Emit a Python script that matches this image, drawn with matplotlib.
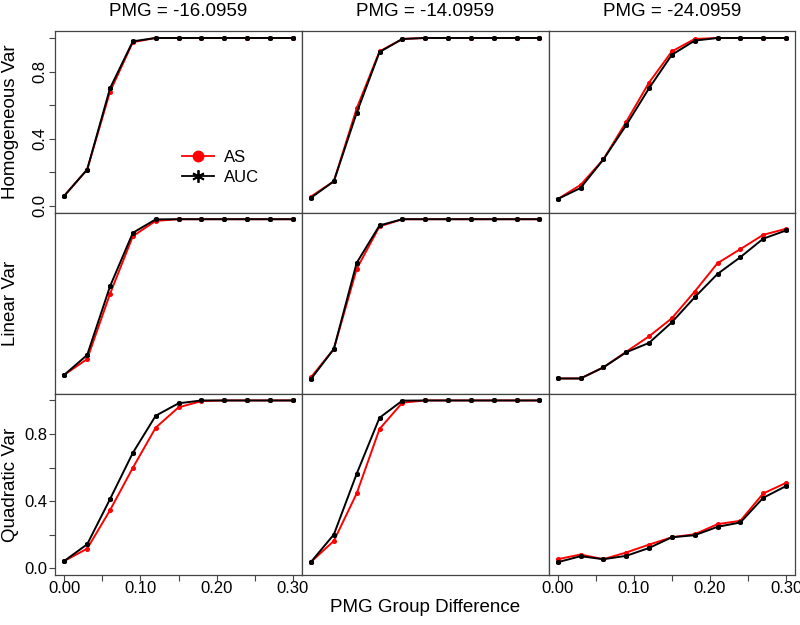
import numpy as np
import matplotlib
matplotlib.use("Agg")
import matplotlib.pyplot as plt
from matplotlib.lines import Line2D

# ------------------------------------------------------------
# Data
# ------------------------------------------------------------
pmg_diff = [0.00, 0.03, 0.06, 0.09, 0.12, 0.15, 0.18, 0.21, 0.24, 0.27, 0.30]

col_titles = ["PMG = -16.0959", "PMG = -14.0959", "PMG = -24.0959"]
row_labels = ["Homogeneous Var", "Linear Var", "Quadratic Var"]

# Homogeneous Var
hom_as_16 = [0.06, 0.216, 0.68, 0.975, 1.0, 1.0, 1.0, 1.0, 1.0, 1.0, 1.0]
hom_auc_16 = [0.06, 0.216, 0.70, 0.98, 1.0, 1.0, 1.0, 1.0, 1.0, 1.0, 1.0]
hom_as_14 = [0.055, 0.146, 0.58, 0.92, 0.994, 1.0, 1.0, 1.0, 1.0, 1.0, 1.0]
hom_auc_14 = [0.048, 0.146, 0.554, 0.916, 0.994, 1.0, 1.0, 1.0, 1.0, 1.0, 1.0]
hom_as_24 = [0.04, 0.124, 0.276, 0.50, 0.734, 0.92, 0.994, 1.0, 1.0, 1.0, 1.0]
hom_auc_24 = [0.04, 0.106, 0.276, 0.48, 0.70, 0.90, 0.984, 1.0, 1.0, 1.0, 1.0]

# Linear Var
lin_as_16 = [0.073, 0.167, 0.555, 0.899, 0.99, 1.0, 1.0, 1.0, 1.0, 1.0, 1.0]
lin_auc_16 = [0.073, 0.191, 0.60, 0.919, 0.999, 1.0, 1.0, 1.0, 1.0, 1.0, 1.0]
lin_as_14 = [0.058, 0.227, 0.704, 0.957, 1.0, 1.0, 1.0, 1.0, 1.0, 1.0, 1.0]
lin_auc_14 = [0.048, 0.227, 0.74, 0.963, 1.0, 1.0, 1.0, 1.0, 1.0, 1.0, 1.0]
lin_as_24 = [0.051, 0.051, 0.117, 0.21, 0.302, 0.41, 0.569, 0.738, 0.822, 0.907, 0.943]
lin_auc_24 = [0.051, 0.051, 0.117, 0.207, 0.263, 0.386, 0.535, 0.674, 0.774, 0.884, 0.933]

# Quadratic Var
quad_as_16 = [0.044, 0.117, 0.346, 0.599, 0.838, 0.959, 0.996, 1.0, 1.0, 1.0, 1.0]
quad_auc_16 = [0.044, 0.143, 0.412, 0.688, 0.909, 0.983, 1.0, 1.0, 1.0, 1.0, 1.0]
quad_as_14 = [0.038, 0.163, 0.446, 0.83, 0.987, 1.0, 1.0, 1.0, 1.0, 1.0, 1.0]
quad_auc_14 = [0.038, 0.201, 0.563, 0.897, 0.999, 1.0, 1.0, 1.0, 1.0, 1.0, 1.0]
quad_as_24 = [0.054, 0.082, 0.054, 0.094, 0.141, 0.185, 0.203, 0.263, 0.283, 0.446, 0.509]
quad_auc_24 = [0.036, 0.072, 0.054, 0.074, 0.121, 0.185, 0.197, 0.247, 0.273, 0.42, 0.49]

as_series = [[hom_as_16, hom_as_14, hom_as_24],
             [lin_as_16, lin_as_14, lin_as_24],
             [quad_as_16, quad_as_14, quad_as_24]]
auc_series = [[hom_auc_16, hom_auc_14, hom_auc_24],
              [lin_auc_16, lin_auc_14, lin_auc_24],
              [quad_auc_16, quad_auc_14, quad_auc_24]]

# ------------------------------------------------------------
# Figure
# ------------------------------------------------------------
plt.rcParams['font.family'] = ['Liberation Sans', 'DejaVu Sans']

fig, axes = plt.subplots(3, 3, figsize=(8, 6.25), dpi=100, sharex=True, sharey=True)
fig.subplots_adjust(left=0.069, right=0.994, top=0.950, bottom=0.08, wspace=0, hspace=0)

asterisk = (6, 2, 0)
frame_color = "#444444"

for r in range(3):
    for c in range(3):
        ax = axes[r, c]
        ax.plot(pmg_diff, as_series[r][c], color="red", lw=1.4,
                marker="o", markersize=2.6, zorder=2)
        ax.plot(pmg_diff, auc_series[r][c], color="black", lw=1.4,
                marker=asterisk, markersize=3.6, markeredgewidth=1.2, zorder=3)
        ax.set_xlim(-0.012, 0.312)
        ax.set_ylim(-0.04, 1.04)
        for s in ax.spines.values():
            s.set_color(frame_color)
            s.set_linewidth(0.9)
        ax.tick_params(direction="out", length=4, width=0.8, color=frame_color,
                       labelsize=12, pad=1.5)
        ax.tick_params(axis="x", pad=0.5)

# shared axes: set ticks once, then show them only where the reference does
axes[0, 0].set_yticks([0, 0.2, 0.4, 0.6, 0.8, 1.0])
axes[0, 0].set_yticklabels(["0.0", "", "0.4", "", "0.8", ""], rotation=90, va="center")
axes[2, 0].set_xticks([0, 0.05, 0.10, 0.15, 0.20, 0.25, 0.30])
axes[2, 0].set_xticklabels(["0.00", "", "0.10", "", "0.20", "", "0.30"])

for r in range(3):
    for c in range(3):
        ax = axes[r, c]
        show_y = (c == 0 and r != 1)
        show_x = (r == 2 and c != 1)
        ax.tick_params(axis="y", left=show_y, labelleft=show_y)
        ax.tick_params(axis="x", bottom=show_x, labelbottom=show_x)

# column titles
for c, title in enumerate(col_titles):
    pos = axes[0, c].get_position()
    fig.text((pos.x0 + pos.x1) / 2, 1 - 11 / 625, title,
             ha="center", va="center", fontsize=13.5)

# row labels
for r, label in enumerate(row_labels):
    pos = axes[r, 0].get_position()
    fig.text(11 / 800, (pos.y0 + pos.y1) / 2, label, rotation=90,
             ha="center", va="center", fontsize=13.5)

fig.text(0.531, 1 - 607 / 625, "PMG Group Difference", ha="center", va="center",
         fontsize=13.5)

# legend in the top-left panel
handles = [Line2D([], [], color="red", lw=1.3, marker="o", markersize=7.5),
           Line2D([], [], color="black", lw=1.3, marker=asterisk, markersize=9,
                  markeredgewidth=1.3)]
axes[0, 0].legend(handles, ["AS", "AUC"], loc="center left", bbox_to_anchor=(0.514, 0.25),
                  frameon=False, fontsize=12, handlelength=1.9, labelspacing=0.3,
                  handletextpad=0.6, borderpad=0, borderaxespad=0)

fig.savefig("out.png", dpi=100)
